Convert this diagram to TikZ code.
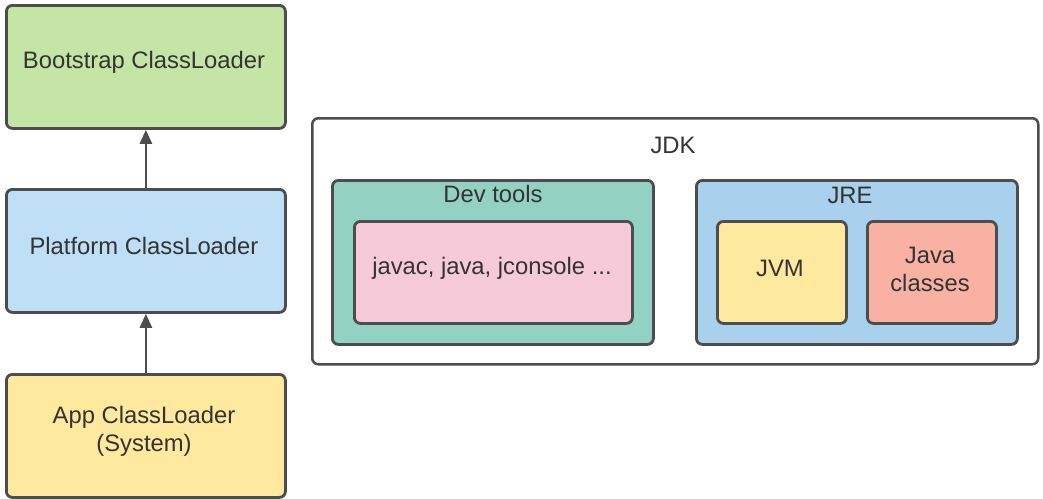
\documentclass[tikz,border=0pt]{standalone}
\usepackage{fontspec}
\setmainfont{Liberation Sans}
\usetikzlibrary{arrows.meta}
\definecolor{edge}{HTML}{4D4D4D}
\definecolor{txt}{HTML}{333333}
\definecolor{cgreen}{HTML}{C5E5A6}
\definecolor{cblue}{HTML}{BEDFF5}
\definecolor{cyellow}{HTML}{FFE99E}
\definecolor{cteal}{HTML}{93D1C3}
\definecolor{cpink}{HTML}{F7CAD9}
\definecolor{cjre}{HTML}{A9D0EC}
\definecolor{csalmon}{HTML}{F9B1A3}
\tikzset{
  box/.style={draw=edge, line width=2.8pt, rounded corners=6pt, anchor=north west,
    inner sep=0pt, text=txt, align=center, font=\fontsize{23.8}{30}\selectfont},
  lbl/.style={text=txt, inner sep=0pt, font=\fontsize{23.8}{28}\selectfont},
  link/.style={draw=edge, line width=2.5pt, -{Triangle[width=12pt,length=14pt]}}
}
\begin{document}
\begin{tikzpicture}[x=1pt,y=-1pt]
\useasboundingbox (0,0) rectangle (1043,498);
% left column
\node[box, fill=cgreen, minimum width=279pt, minimum height=123pt] (boot) at (5,4) {};
\node[lbl] (bootlbl) at (144,62) {Bootstrap ClassLoader};
\node[box, fill=cblue, minimum width=279pt, minimum height=123pt] (plat) at (5,188) {};
\node[lbl] (platlbl) at (144,246) {Platform ClassLoader};
\node[box, fill=cyellow, minimum width=279pt, minimum height=123pt] (app) at (5,373) {};
\node[lbl, align=center] (applbl) at (144,431) {App ClassLoader\\(System)};
\draw[link] (plat.north) -- (boot.south);
\draw[link] (app.north) -- (plat.south);
% JDK
\node[box, fill=white, line width=2.5pt, minimum width=726pt, minimum height=246pt] (jdk) at (311,117) {};
\node[lbl] (jdklbl) at (673,145) {JDK};
\node[box, fill=cteal, minimum width=321pt, minimum height=164pt] (dev) at (331,179) {};
\node[lbl] (devlbl) at (493,194) {Dev tools};
\node[box, fill=cpink, minimum width=278pt, minimum height=102pt] (tools) at (353,220) {};
\node[lbl] (toolslbl) at (492,268) {javac, java, jconsole ...};
\node[box, fill=cjre, minimum width=321pt, minimum height=164pt] (jre) at (695,179) {};
\node[lbl] (jrelbl) at (850,195) {JRE};
\node[box, fill=cyellow, minimum width=129pt, minimum height=102pt] (jvm) at (716,220) {};
\node[lbl] (jvmlbl) at (780,268) {JVM};
\node[box, fill=csalmon, minimum width=129pt, minimum height=102pt] (cls) at (866,220) {};
\node[lbl, align=center] (clslbl) at (930,269) {Java\\classes};
\end{tikzpicture}
\end{document}
